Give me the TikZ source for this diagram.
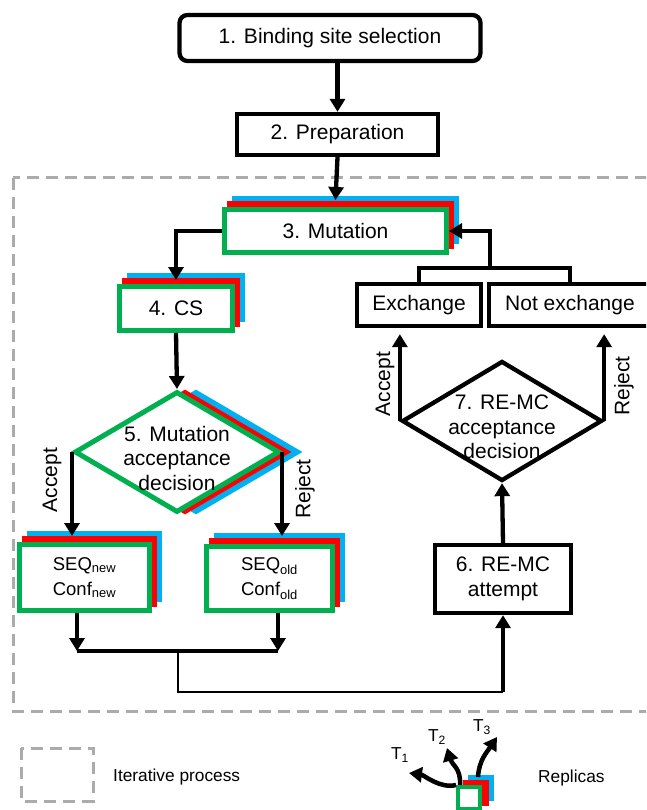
\documentclass[tikz,border=0pt]{standalone}
\usepackage{fontspec}
\setmainfont{Liberation Sans}
\usetikzlibrary{arrows.meta,positioning,calc,shapes.geometric,shadows}
\definecolor{repgreen}{HTML}{00B050}
\definecolor{repred}{HTML}{FF0000}
\definecolor{repblue}{HTML}{00B0F0}
\definecolor{rule}{HTML}{ABABAB}
\newcommand{\mainsize}{\fontsize{21}{24.5}\selectfont}
\newcommand{\statesize}{\fontsize{18.5}{25}\selectfont}
\newcommand{\legsize}{\fontsize{17.3}{20}\selectfont}

\begin{document}
\begin{tikzpicture}[
  x=1pt, y=-1pt,
  every node/.style={font=\mainsize, inner sep=0pt, align=center},
  layers/.style args={#1:#2:#3:#4:#5}{
    copy shadow={draw=repblue, fill=repblue, line width=#5, shadow xshift=#3, shadow yshift=#4},
    copy shadow={draw=repred, fill=repred, line width=#5, shadow xshift=#1, shadow yshift=#2}},
  box/.style={rectangle, draw=black, line width=4.3pt, fill=white},
  dia/.style={diamond, draw=black, line width=4.3pt, fill=white},
  stackbox/.style={rectangle, draw=repgreen, line width=5pt, fill=white, layers=5pt:6pt:10pt:11pt:5pt},
  stackdia/.style={diamond, draw=repgreen, line width=5pt, fill=white, layers=8pt:0pt:19pt:0pt:5pt},
  arr/.style={-{Triangle[width=15pt,length=13pt]}, line width=4.3pt},
  carr/.style={-{Triangle[width=15pt,length=13pt]}, line width=4.5pt},
  conn/.style={line width=3.5pt},
  frame/.style={draw=rule, line width=3pt, dash pattern=on 12pt off 7pt},
  side/.style={rotate=90}
]
\useasboundingbox (0,0) rectangle (646,810);
\clip (0,0) rectangle (646,810);

% iterative part
\draw[frame] (13,178) rectangle (690,711);

% set-up steps
\node[box, rounded corners=8pt, minimum width=301pt, minimum height=46pt] (bind) at (330,38) {1. Binding site selection};
\node[box, minimum width=201pt, minimum height=41pt] (prep) at (337.5,134.5) {2. Preparation};

% mutation branch (one copy per replica)
\node[stackbox, minimum width=222pt, minimum height=43pt] (mut) at (335.5,231) {3. Mutation};
\node[stackbox, minimum width=113pt, minimum height=44pt] (cs) at (176,308.5) {4. CS};
\node[stackdia, minimum width=205pt, minimum height=121pt] (mdec) at (177,452) {};
\node (mdectxt) at (177,458) {5. Mutation\\acceptance\\decision};
\node[stackbox, font=\statesize, minimum width=130pt, minimum height=66pt] (new) at (84.5,577.5) {SEQ\textsubscript{new}\\Conf\textsubscript{new}};
\node[stackbox, font=\statesize, minimum width=126pt, minimum height=64pt] (old) at (269.5,578.5) {SEQ\textsubscript{old}\\Conf\textsubscript{old}};

% replica exchange branch
\node[box, minimum width=136pt, minimum height=68pt] (att) at (503,579) {6. RE-MC\\attempt};
\node[dia, minimum width=200pt, minimum height=120pt] (xdec) at (502,421) {};
\node (xdectxt) at (502,427) {7. RE-MC\\acceptance\\decision};
\node[box, minimum width=124pt, minimum height=42pt] (exch) at (419,305) {Exchange};
\node[box, minimum width=162pt, minimum height=42pt] (notex) at (570,305) {Not exchange};

% decision labels
\node[side] (acc5) at (52,480) {Accept};
\node[side] (rej5) at (305,489) {Reject};
\node[side] (acc7) at (385,384) {Accept};
\node[side] (rej7) at (624,386) {Reject};

% connectors
\draw[arr] (prep.north |- bind.south) -- (prep.north);
\draw[arr] (prep.south) -- ([yshift=7pt]mut.north);
\draw[arr] (mut.west) -| ([yshift=4pt]cs.north);
\draw[arr] (cs.south) -- (mdec.north);
\draw[arr] (mdec.west) -- ($(mdec.west |- new.north)+(0,-6)$);
\draw[arr] (mdec.east) -- ($(mdec.east |- old.north)+(0,-8)$);

\coordinate (jl) at (77,651);
\coordinate (jr) at (278,651);
\coordinate (jm) at (178,651);
\coordinate (jb) at (178,692);
\draw[arr] (new.south -| jl) -- (jl);
\draw[arr] (old.south -| jr) -- (jr);
\draw[conn] (jl) -- (jr);
\draw[line width=2.5pt] (jm) -- (jb) -- (jb -| att.south);
\draw[arr] (jb -| att.south) -- (att.south);

\draw[arr] (att.north) -- (xdec.south);
\draw[arr] (xdec.west) -- ($(xdec.west |- exch.south)+(0,6)$);
\draw[arr] (xdec.east) -- ($(xdec.east |- notex.south)+(0,6)$);
\coordinate (bar) at (490,268);
\draw[conn] (exch.north) |- (bar) -| (notex.north);
\draw[arr] (bar) |- (mut.east);

% legend
\draw[frame] (21,748) rectangle (93,801);
\node[font=\legsize, anchor=west] (itp) at (113,777) {Iterative process};
\node[rectangle, draw=repgreen, line width=4pt, fill=white, minimum width=22pt, minimum height=22pt,
  layers=7pt:5pt:12pt:10pt:4pt] (rep) at (469,798) {};
\node[font=\legsize, anchor=west] (repl) at (538,778) {Replicas};
\coordinate (t1) at (409,773);
\coordinate (t2) at (447,748);
\coordinate (t3) at (497,737);
\draw[carr] (rep.north west) .. controls (440,789) and (424,775) .. (t1);
\draw[carr] ($(rep.north west)+(4,0)$) .. controls (461,768) and (452,765) .. (t2);
\draw[carr] ($(rep.north)+(9,-8)$) .. controls (479,760) and (487,752) .. (t3);
\node[font=\legsize] (t1l) at (400,755) {T\textsubscript{1}};
\node[font=\legsize] (t2l) at (437,737) {T\textsubscript{2}};
\node[font=\legsize] (t3l) at (482,727) {T\textsubscript{3}};

\end{tikzpicture}
\end{document}
